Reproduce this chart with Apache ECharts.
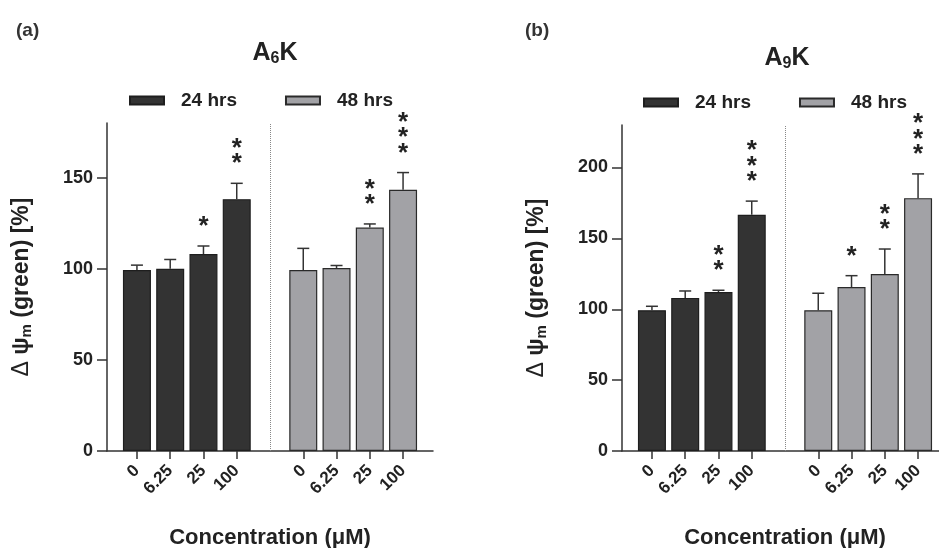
<!DOCTYPE html>
<html>
<head>
<meta charset="utf-8">
<script src="https://cdn.jsdelivr.net/npm/echarts@6/dist/echarts.min.js"></script>
<style>
  html, body { margin: 0; padding: 0; background: #fff; }
  #main { width: 939px; height: 548px; }
</style>
</head>
<body>
<div id="main"></div>
<script>
// data
var concLabels = ['0', '6.25', '25', '100'];
var pos24 = [0, 1, 2, 3];
var pos48 = [5, 6, 7, 8];          // slot 4 is the gap (dotted line)
var xTicks = [0, 1, 2, 3, 5, 6, 7, 8];

// A6K
var a6k24 = [99.3, 100.0, 108.1, 138.2];
var a6k24Err = [2.7, 5.1, 4.4, 8.7];
var a6k24Sig = [0, 0, 1, 2];
var a6k48 = [99.3, 100.4, 122.6, 143.4];
var a6k48Err = [11.9, 1.4, 2.0, 9.4];
var a6k48Sig = [0, 0, 2, 3];
var a6kYTicks = [0, 50, 100, 150];

// A9K
var a9k24 = [99.3, 108.0, 112.2, 166.7];
var a9k24Err = [2.8, 4.9, 1.2, 9.6];
var a9k24Sig = [0, 0, 2, 3];
var a9k48 = [99.3, 115.7, 124.9, 178.4];
var a9k48Err = [12.0, 8.0, 17.6, 17.1];
var a9k48Sig = [0, 1, 2, 3];
var a9kYTicks = [0, 50, 100, 150, 200];

var FONT = '"Liberation Sans", Arial, sans-serif';
var INK = '#333';
var DARK = '#333333', LIGHT = '#a2a2a6';

function pairs(xs, ys) { return xs.map(function (x, i) { return [x, ys[i]]; }); }
function triples(xs, ys, zs) { return xs.map(function (x, i) { return [x, ys[i], zs[i]]; }); }

// error bar, upper half only
function errItem(params, api) {
  var x = api.value(0), v = api.value(1), e = api.value(2);
  var p0 = api.coord([x, v]), p1 = api.coord([x, v + e]);
  var st = { stroke: INK, lineWidth: 1.5 };
  return { type: 'group', children: [
    { type: 'line', shape: { x1: p0[0], y1: p0[1], x2: p1[0], y2: p1[1] }, style: st },
    { type: 'line', shape: { x1: p1[0] - 6, y1: p1[1], x2: p1[0] + 6, y2: p1[1] }, style: st }
  ]};
}

// significance stars stacked above the error bar
function starItem(params, api) {
  var x = api.value(0), top = api.value(1), n = api.value(2);
  var p = api.coord([x, top]);
  var kids = [];
  for (var i = 0; i < n; i++) {
    kids.push({ type: 'text', x: p[0], y: p[1] - 19 - i * 15.5,
      style: { text: '*', font: 'bold 26px ' + FONT, fill: '#222', align: 'center', verticalAlign: 'middle' } });
  }
  return { type: 'group', children: kids };
}

function sumArr(a, b) { return a.map(function (v, i) { return v + b[i]; }); }

function makeX(g) {
  return {
    type: 'value', gridIndex: g, min: -0.9, max: 8.9,
    splitLine: { show: false },
    axisLine: { lineStyle: { color: INK, width: 1.5 } },
    axisTick: { customValues: xTicks, length: 8, lineStyle: { color: INK, width: 1.5 } },
    axisLabel: {
      customValues: xTicks, rotate: 45, margin: 17, color: '#222',
      fontFamily: FONT, fontWeight: 'bold', fontSize: 17,
      formatter: function (v) { return concLabels[xTicks.indexOf(v) % 4]; }
    },
    name: 'Concentration (\u03bcM)', nameLocation: 'middle', nameGap: 76,
    nameTextStyle: { fontFamily: FONT, fontWeight: 'bold', fontSize: 22, color: '#222' }
  };
}

function makeY(g, max, ticks) {
  return {
    type: 'value', gridIndex: g, min: 0, max: max, interval: 50,
    splitLine: { show: false },
    axisLine: { show: true, onZero: false, lineStyle: { color: INK, width: 1.5 } },
    axisTick: { show: true, customValues: ticks, length: 10, lineStyle: { color: INK, width: 1.5 } },
    axisLabel: { customValues: ticks, margin: 14, color: '#222', fontFamily: FONT, fontWeight: 'bold', fontSize: 18 },
    name: '{d|\u0394 }{t|\u03c8}{s|m}{t| (green) [%]}', nameLocation: 'middle', nameGap: 73,
    nameTextStyle: { color: '#222', rich: {
      d: { fontFamily: FONT, fontWeight: 'normal', fontSize: 23, color: '#222' },
      t: { fontFamily: FONT, fontWeight: 'bold', fontSize: 23, color: '#222' },
      s: { fontFamily: FONT, fontWeight: 'bold', fontSize: 15, color: '#222', padding: [9, 0, 0, 0] }
    } }
  };
}

function panelSeries(g, v24, e24, s24, v48, e48, s48) {
  return [
    { name: '24 hrs', type: 'bar', xAxisIndex: g, yAxisIndex: g, barWidth: 28, barGap: '-100%',
      itemStyle: { color: DARK, borderColor: '#1e1e1e', borderWidth: 1.2 },
      data: pairs(pos24, v24),
      markLine: { silent: true, symbol: 'none', label: { show: false },
        lineStyle: { type: 'dotted', color: '#888', width: 1 }, data: [{ xAxis: 4 }] } },
    { name: '48 hrs', type: 'bar', xAxisIndex: g, yAxisIndex: g, barWidth: 28, barGap: '-100%',
      itemStyle: { color: LIGHT, borderColor: '#2a2a2a', borderWidth: 1.2 },
      data: pairs(pos48, v48) },
    { type: 'custom', xAxisIndex: g, yAxisIndex: g, renderItem: errItem, z: 5,
      data: triples(pos24, v24, e24).concat(triples(pos48, v48, e48)) },
    { type: 'custom', xAxisIndex: g, yAxisIndex: g, renderItem: starItem, z: 5, clip: false,
      data: triples(pos24, sumArr(v24, e24), s24).concat(triples(pos48, sumArr(v48, e48), s48)) }
  ];
}

function makeTitle(sub, cx, top) {
  return { text: '{a|A}{s|' + sub + '}{a|K}', left: cx, top: top, textAlign: 'center',
    textStyle: { rich: {
      a: { fontFamily: FONT, fontWeight: 'bold', fontSize: 25, color: '#222' },
      s: { fontFamily: FONT, fontWeight: 'bold', fontSize: 16, color: '#222', padding: [12, 0, 0, 0] }
    } } };
}

function makeLegend(left, top) {
  return { left: left, top: top, icon: 'rect', itemWidth: 34, itemHeight: 8, itemGap: 48,
    data: ['24 hrs', '48 hrs'],
    textStyle: { fontFamily: FONT, fontWeight: 'bold', fontSize: 19, color: '#222', padding: [0, 0, 0, 12] } };
}

var chart = echarts.init(document.getElementById('main'), null, { renderer: 'canvas' });
chart.setOption({
  backgroundColor: '#fff',
  animation: false,
  title: [
    { text: '(a)', left: 11, top: 16, textStyle: { fontFamily: FONT, fontWeight: 'bold', fontSize: 19, color: '#333' } },
    { text: '(b)', left: 520, top: 16, textStyle: { fontFamily: FONT, fontWeight: 'bold', fontSize: 19, color: '#333' } },
    makeTitle('6', 270, 34),
    makeTitle('9', 782, 39)
  ],
  legend: [makeLegend(124, 86), makeLegend(638, 88)],
  grid: [
    { left: 107, top: 123, width: 326, height: 328, outerBoundsMode: 'none' },
    { left: 622, top: 125, width: 326, height: 326, outerBoundsMode: 'none' }
  ],
  xAxis: [makeX(0), makeX(1)],
  yAxis: [makeY(0, 180, a6kYTicks), makeY(1, 230, a9kYTicks)],
  series: panelSeries(0, a6k24, a6k24Err, a6k24Sig, a6k48, a6k48Err, a6k48Sig)
    .concat(panelSeries(1, a9k24, a9k24Err, a9k24Sig, a9k48, a9k48Err, a9k48Sig))
});
</script>
</body>
</html>
